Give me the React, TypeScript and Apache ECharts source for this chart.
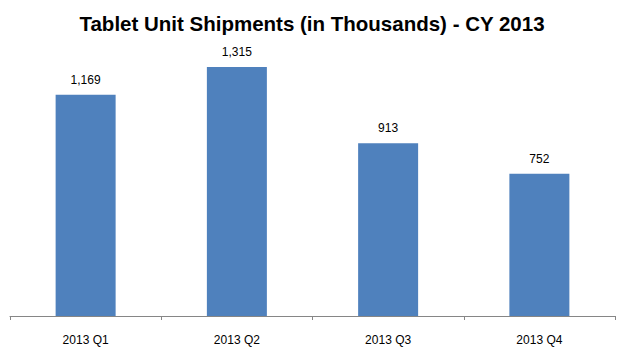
import React, { useEffect, useRef } from "react";
import * as echarts from "echarts";

const categories = ["2013 Q1", "2013 Q2", "2013 Q3", "2013 Q4"];
const shipments = [1169, 1315, 913, 752];
const titleText = "Tablet Unit Shipments (in Thousands) - CY 2013";

export default function App() {
  const ref = useRef<HTMLDivElement>(null);
  useEffect(() => {
    if (!ref.current) return;
    const chart = echarts.init(ref.current, null, { renderer: "svg" });
    chart.setOption({
      animation: false,
      backgroundColor: "#ffffff",
      title: {
        text: titleText,
        left: "center",
        top: 8,
        textStyle: {
          fontFamily: "'Liberation Sans', Arial, sans-serif",
          fontWeight: "bold",
          fontSize: 20.5,
          color: "#000000",
        },
      },
      grid: { left: 10, right: 9, top: 51, bottom: 45, containLabel: false },
      xAxis: {
        type: "category",
        data: categories,
        axisLine: { lineStyle: { color: "#868686", width: 1 } },
        axisTick: { show: true, length: 4, lineStyle: { color: "#868686" } },
        axisLabel: {
          color: "#000000",
          fontFamily: "'Liberation Sans', Arial, sans-serif",
          fontSize: 12,
          margin: 18,
        },
      },
      yAxis: {
        type: "value",
        min: 0,
        max: 1400,
        show: false,
        splitLine: { show: false },
      },
      series: [
        {
          type: "bar",
          data: shipments,
          barWidth: 60,
          itemStyle: { color: "#4F81BD" },
          label: {
            show: true,
            position: "top",
            distance: 9,
            color: "#000000",
            fontFamily: "'Liberation Sans', Arial, sans-serif",
            fontSize: 12,
            formatter: (p: any) => p.value.toLocaleString("en-US"),
          },
        },
      ],
    });
    return () => chart.dispose();
  }, []);
  return <div ref={ref} style={{ width: 624, height: 361, position: "absolute", left: 0, top: 0 }} />;
}
